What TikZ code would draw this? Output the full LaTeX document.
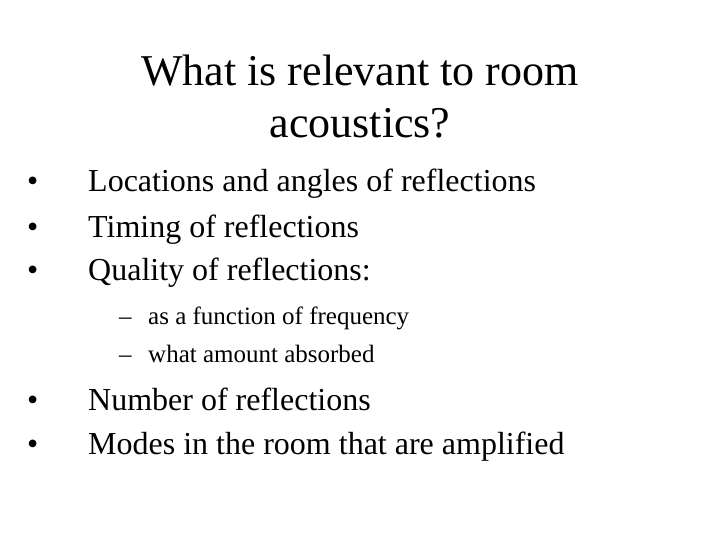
\documentclass[tikz,border=0pt]{standalone}
\usepackage{fontspec}
\setmainfont{Liberation Serif}
\begin{document}
\begin{tikzpicture}[x=1pt,y=-1pt,
  title/.style={anchor=base,font=\fontsize{44}{48}\selectfont,inner sep=0},
  bul/.style={anchor=base west,font=\fontsize{32}{36}\selectfont,inner sep=0},
  sub/.style={anchor=base west,font=\fontsize{25}{28}\selectfont,inner sep=0}]
\useasboundingbox[fill=white] (0,0) rectangle (720,540);
\node[title] (t1) at (360,86) {What is relevant to room};
\node[title] (t2) at (360,138) {acoustics?};
\node[bul] (b1d) at (27,192) {•}; \node[bul] (b1) at (88,192) {Locations and angles of reflections};
\node[bul] (b2d) at (27,237) {•}; \node[bul] (b2) at (88,237) {Timing of reflections};
\node[bul] (b3d) at (27,280) {•}; \node[bul] (b3) at (88,280) {Quality of reflections:};
\node[sub] (s1d) at (119,324) {–}; \node[sub] (s1) at (148,324) {as a function of frequency};
\node[sub] (s2d) at (119,362) {–}; \node[sub] (s2) at (148,362) {what amount absorbed};
\node[bul] (b4d) at (27,410) {•}; \node[bul] (b4) at (88,410) {Number of reflections};
\node[bul] (b5d) at (27,454) {•}; \node[bul] (b5) at (88,454) {Modes in the room that are amplified};
\end{tikzpicture}
\end{document}
